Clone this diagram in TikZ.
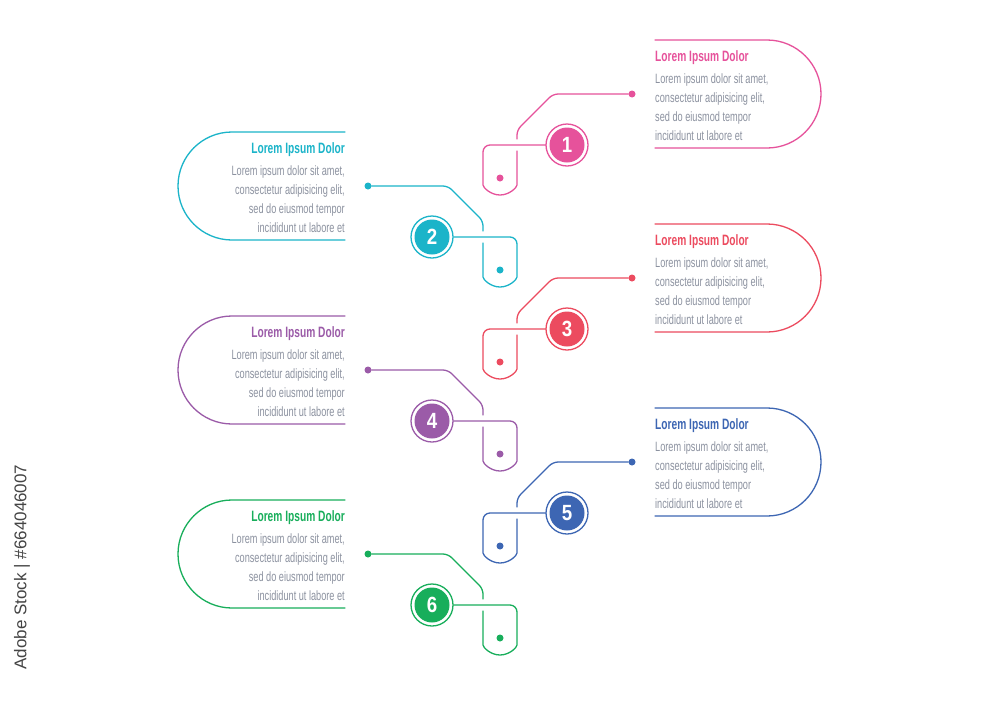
\documentclass[tikz,border=0pt]{standalone}
\usepackage{fontspec}
\setmainfont{Liberation Sans}
\newfontfamily\cond{Liberation Sans}[FakeStretch=0.68]
\newfontfamily\condnum{Liberation Sans}[FakeStretch=0.85]
\definecolor{cpink}{RGB}{230,82,155}
\definecolor{ccyan}{RGB}{27,180,201}
\definecolor{cred}{RGB}{236,75,95}
\definecolor{cpurple}{RGB}{155,91,168}
\definecolor{cblue}{RGB}{61,102,179}
\definecolor{cgreen}{RGB}{24,174,91}
\definecolor{bodygray}{RGB}{140,146,160}
\definecolor{stockgray}{RGB}{68,68,68}
\tikzset{
  ln/.style={line width=1.3pt, line cap=round, line join=round, draw=#1},
  numc/.style={circle, draw=#1, fill=white, line width=1.3pt, minimum size=42pt, inner sep=0pt,
    text=white, font=\condnum\bfseries\fontsize{22}{22}\selectfont,
    path picture={\fill[#1] (path picture bounding box.center) circle[radius=17.5pt];}},
  dotc/.style={circle, fill=#1, minimum size=7pt, inner sep=0pt},
  ttl/.style={font=\cond\bfseries\fontsize{15}{15}\selectfont, text=#1, inner sep=0pt},
  bdy/.style={font=\cond\fontsize{13.5}{13.5}\selectfont, text=bodygray, inner sep=0pt},
}
\newcommand\RStep[3]{%
  \node[numc=#3] (n#1) at (567,#2) {#1};
  \node[dotc=#3] (c#1) at (632,{#2-51}) {};
  \node[dotc=#3] (d#1) at (500,{#2+33}) {};
  \draw[ln=#3, rounded corners=5pt] (c#1) -- (553,{#2-51}) -- (517,{#2-15}) -- (517,{#2-6});
  \draw[ln=#3, rounded corners=7pt] (n#1.west) -- (483,#2) -- (483,{#2+33})
     arc[start angle=180, end angle=360, radius=17pt] -- (517,{#2+6});
  \draw[ln=#3] (655,{#2-105}) -- (767,{#2-105})
     arc[start angle=90, end angle=-90, radius=54pt] -- (655,{#2+3});
  \node[ttl=#3, anchor=base west] (h#1) at (655,{#2-84}) {Lorem Ipsum Dolor};
  \node[bdy, anchor=base west] (a#1) at (655,{#2-62}) {Lorem ipsum dolor sit amet,};
  \node[bdy, anchor=base west] (b#1) at (655,{#2-43}) {consectetur adipisicing elit,};
  \node[bdy, anchor=base west] (e#1) at (655,{#2-24}) {sed do eiusmod tempor};
  \node[bdy, anchor=base west] (f#1) at (655,{#2-5}) {incididunt ut labore et};
}
\newcommand\LStep[3]{%
  \node[numc=#3] (n#1) at (432,#2) {#1};
  \node[dotc=#3] (c#1) at (368,{#2-51}) {};
  \node[dotc=#3] (d#1) at (500,{#2+33}) {};
  \draw[ln=#3, rounded corners=5pt] (c#1) -- (448,{#2-51}) -- (483,{#2-16}) -- (483,{#2-6});
  \draw[ln=#3, rounded corners=7pt] (n#1.east) -- (517,#2) -- (517,{#2+33})
     arc[start angle=0, end angle=-180, radius=17pt] -- (483,{#2+6});
  \draw[ln=#3] (345,{#2-105}) -- (232,{#2-105})
     arc[start angle=90, end angle=270, radius=54pt] -- (345,{#2+3});
  \node[ttl=#3, anchor=base east] (h#1) at (345,{#2-84}) {Lorem Ipsum Dolor};
  \node[bdy, anchor=base east] (a#1) at (345,{#2-62}) {Lorem ipsum dolor sit amet,};
  \node[bdy, anchor=base east] (b#1) at (345,{#2-43}) {consectetur adipisicing elit,};
  \node[bdy, anchor=base east] (e#1) at (345,{#2-24}) {sed do eiusmod tempor};
  \node[bdy, anchor=base east] (f#1) at (345,{#2-5}) {incididunt ut labore et};
}
\begin{document}
\begin{tikzpicture}[x=1pt, y=-1pt]
  \fill[white] (0,0) rectangle (1000,707);
  \useasboundingbox (0,0) rectangle (1000,707);
  \RStep{1}{145}{cpink}
  \LStep{2}{237}{ccyan}
  \RStep{3}{329}{cred}
  \LStep{4}{421}{cpurple}
  \RStep{5}{513}{cblue}
  \LStep{6}{605}{cgreen}
  \node[rotate=90, font=\fontsize{17}{17}\selectfont, text=stockgray, inner sep=0pt] (stock) at (22,567) {Adobe Stock | \#664046007};
\end{tikzpicture}
\end{document}
